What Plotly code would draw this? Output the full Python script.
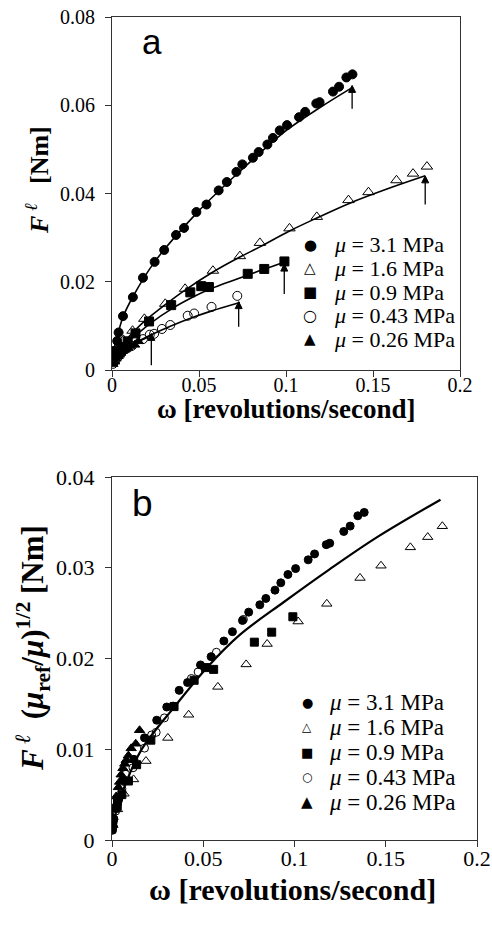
import plotly.graph_objects as go

# ---------------- data (panel a) ----------------
series_names = ["3.1", "1.6", "0.9", "0.43", "0.26"]
mu_values = [3.1, 1.6, 0.9, 0.43, 0.26]
mu_ref = 0.9

x_31 = [0.0003, 0.0007, 0.001, 0.003, 0.0038, 0.0063, 0.012, 0.0178, 0.0245, 0.030, 0.0368, 0.0414,
        0.0485, 0.0543, 0.0613, 0.066, 0.0715, 0.0749, 0.081, 0.0843, 0.0893, 0.0925, 0.0964,
        0.1006, 0.1075, 0.111, 0.1174, 0.1193, 0.127, 0.1305, 0.1347, 0.1382]
y_31 = [0.0020, 0.0028, 0.0043, 0.0066, 0.0085, 0.0122, 0.0165, 0.0209, 0.0245, 0.0272, 0.0306, 0.0322,
        0.0358, 0.0375, 0.0407, 0.0426, 0.0449, 0.0466, 0.0481, 0.0494, 0.0511, 0.0526, 0.0543,
        0.0555, 0.0573, 0.0585, 0.0604, 0.0607, 0.0631, 0.0642, 0.0663, 0.0670]

x_16 = [0.0005, 0.003, 0.0066, 0.0118, 0.0186, 0.0306, 0.042, 0.058, 0.0735, 0.085, 0.102,
        0.1177, 0.1359, 0.1474, 0.1635, 0.173, 0.181]
y_16 = [0.0022, 0.0045, 0.0068, 0.0089, 0.0116, 0.0150, 0.0184, 0.0225, 0.0258, 0.0288, 0.0321,
        0.0347, 0.0385, 0.0403, 0.0430, 0.0445, 0.0461]

x_09 = [0.0005, 0.0015, 0.003, 0.0054, 0.0090, 0.0135, 0.0213, 0.0340, 0.0450, 0.0513, 0.0557,
        0.0780, 0.0875, 0.0991]
y_09 = [0.0022, 0.0035, 0.0042, 0.0050, 0.0065, 0.0083, 0.0110, 0.0147, 0.0176, 0.0190, 0.0188,
        0.0218, 0.0229, 0.0246]

x_043 = [0.0006, 0.002, 0.0035, 0.0054, 0.0075, 0.0115, 0.0178, 0.0217, 0.0242, 0.0287, 0.0335,
         0.0435, 0.0472, 0.0572, 0.0720]
y_043 = [0.0014, 0.0022, 0.0030, 0.0039, 0.0050, 0.0055, 0.0070, 0.0080, 0.0082, 0.0093, 0.0102,
         0.0123, 0.0128, 0.0143, 0.0168]

x_026 = [0.0005, 0.0015, 0.0023, 0.0035, 0.0042, 0.0050, 0.0060, 0.0070, 0.0078, 0.0090, 0.0105,
         0.0130, 0.0151]
y_026 = [0.00134, 0.00188, 0.00258, 0.00312, 0.00344, 0.00387, 0.00425, 0.00451, 0.00473, 0.0050,
         0.00543, 0.0057, 0.0065]

# fitted curves
fit_31_x = [0, 0.001, 0.003, 0.0063, 0.012, 0.0245, 0.0485, 0.0715, 0.1006, 0.12, 0.138]
fit_31_y = [0.0022, 0.0045, 0.0075, 0.0120, 0.0166, 0.0245, 0.0355, 0.0443, 0.0544, 0.0596, 0.0640]
fit_16_x = [0, 0.003, 0.0066, 0.012, 0.0186, 0.0306, 0.042, 0.058, 0.0735, 0.085, 0.102, 0.118,
            0.136, 0.158, 0.18]
fit_16_y = [0.0022, 0.0043, 0.0062, 0.0085, 0.0110, 0.0148, 0.0181, 0.0222, 0.0256, 0.0279, 0.0315,
            0.0345, 0.0377, 0.0410, 0.0440]
fit_09_x = [0, 0.0015, 0.0054, 0.0092, 0.015, 0.0215, 0.0345, 0.0454, 0.056, 0.0786, 0.0878, 0.099]
fit_09_y = [0.0022, 0.0033, 0.0051, 0.0064, 0.0083, 0.0104, 0.0139, 0.0163, 0.0183, 0.0216, 0.0229,
            0.0244]
fit_043_x = [0, 0.002, 0.0054, 0.0082, 0.013, 0.0217, 0.0335, 0.0478, 0.0574, 0.0735]
fit_043_y = [0.0014, 0.0025, 0.0038, 0.0048, 0.0061, 0.0078, 0.0099, 0.0121, 0.0134, 0.0153]
fit_026_x = [0, 0.002, 0.005, 0.010, 0.015, 0.0226]
fit_026_y = [0.0012, 0.0025, 0.0038, 0.0053, 0.0064, 0.0078]

# arrows in panel a (x, tail y, head y)
arrow_x = [0.138, 0.180, 0.099, 0.0728, 0.0226]
arrow_tail = [0.0592, 0.0375, 0.0172, 0.0098, 0.0011]
arrow_head = [0.0645, 0.0440, 0.0240, 0.0155, 0.0083]

# master curve in panel b
fit_b_x = [0, 0.0069, 0.016, 0.0343, 0.0525, 0.070, 0.094, 0.119, 0.1455, 0.18]
fit_b_y = [0.0015, 0.0059, 0.0099, 0.0147, 0.0191, 0.0226, 0.0262, 0.0298, 0.0334, 0.0375]

legend_glyphs = ["●", "△", "■", "○", "▲"]

# ---------------- figure ----------------
W, H = 492, 925
SERIF = "Liberation Serif, Times New Roman, serif"
SANS = "Liberation Sans, Arial, sans-serif"
SYM = "DejaVu Sans, sans-serif"

def px(x):
    return x / W

def py(y):
    return 1 - y / H

xs = [x_31, x_16, x_09, x_043, x_026]
ys = [y_31, y_16, y_09, y_043, y_026]
fits_x = [fit_31_x, fit_16_x, fit_09_x, fit_043_x, fit_026_x]
fits_y = [fit_31_y, fit_16_y, fit_09_y, fit_043_y, fit_026_y]
symbols = ["circle", "triangle-up-open", "square", "circle-open", "triangle-up"]
sizes_a = [9, 10, 9, 9, 9]
sizes_b = [8, 9, 8, 8, 9]

fig = go.Figure()

for fx, fy in zip(fits_x, fits_y):
    fig.add_trace(go.Scatter(x=fx, y=fy, mode="lines", line=dict(color="black", width=1.6, shape="spline"),
                             showlegend=False, hoverinfo="skip", xaxis="x", yaxis="y"))

# arrows marking the end of each fit (line with arrow-head marker at the tip)
for ax_, t, h in zip(arrow_x, arrow_tail, arrow_head):
    fig.add_trace(go.Scatter(x=[ax_, ax_], y=[t, h], mode="lines+markers",
                             line=dict(color="black", width=1.3),
                             marker=dict(symbol=["circle", "arrow-up"], size=[0, 7], color="black",
                                         opacity=1, line=dict(width=1, color="black")),
                             showlegend=False, hoverinfo="skip", xaxis="x", yaxis="y"))

for name, x, y, sym, s in zip(series_names, xs, ys, symbols, sizes_a):
    fig.add_trace(go.Scatter(x=x, y=y, mode="markers", name=f"μ = {name} MPa", showlegend=False,
                             marker=dict(symbol=sym, size=s, color="black", line=dict(color="black", width=1)),
                             xaxis="x", yaxis="y"))

fig.add_trace(go.Scatter(x=fit_b_x, y=fit_b_y, mode="lines", line=dict(color="black", width=2.2, shape="spline"),
                         showlegend=False, hoverinfo="skip", xaxis="x2", yaxis="y2"))

for name, mu, x, y, sym, s in zip(series_names, mu_values, xs, ys, symbols, sizes_b):
    f = (mu_ref / mu) ** 0.5
    fig.add_trace(go.Scatter(x=x, y=[v * f for v in y], mode="markers", name=f"μ = {name} MPa",
                             showlegend=False,
                             marker=dict(symbol=sym, size=s, color="black", line=dict(color="black", width=1)),
                             xaxis="x2", yaxis="y2"))

def axis(fs, standoff, **kw):
    d = dict(showline=True, linecolor="#333", linewidth=1, mirror=True, ticks="outside",
             ticklen=6, tickcolor="#333", showgrid=False, zeroline=False, automargin=False,
             ticklabelstandoff=standoff,
             tickfont=dict(family=SERIF, size=fs, color="black"))
    d.update(kw)
    return d

fig.update_layout(
    width=W, height=H, margin=dict(l=0, r=0, t=0, b=0, autoexpand=False),
    paper_bgcolor="white", plot_bgcolor="white", showlegend=False,
    xaxis=axis(20, -9, domain=[px(112), px(460)], range=[0, 0.2], dtick=0.05, anchor="y"),
    yaxis=axis(20, 6, domain=[py(370), py(17)], range=[0, 0.08], dtick=0.02, anchor="x"),
    xaxis2=axis(22, -7, domain=[px(112), px(477)], range=[0, 0.2], dtick=0.05, anchor="y2"),
    yaxis2=axis(22, 6, domain=[py(840), py(477)], range=[0, 0.04], dtick=0.01, anchor="x2"),
)

annotations = []

# legends (symbol glyph + text)
leg_a_rows = [245, 268.5, 292, 315.5, 339]
leg_b_rows = [702, 727, 752, 777, 802]
glyph_size_a = [15, 15, 15, 16, 15]
glyph_size_b = [13, 12, 13, 12, 15]
for rows, gx, tx, gsz, tsz in [(leg_a_rows, 310, 332, glyph_size_a, 22), (leg_b_rows, 307, 327, glyph_size_b, 23)]:
    for r, g, n, s in zip(rows, legend_glyphs, series_names, gsz):
        annotations.append(dict(x=px(gx), y=py(r), xref="paper", yref="paper", xanchor="center",
                                yanchor="middle", text=g, showarrow=False,
                                font=dict(family=SYM, size=s, color="black")))
        annotations.append(dict(x=px(tx), y=py(r), xref="paper", yref="paper", xanchor="left",
                                yanchor="middle", text=f"<i>μ</i> = {n} MPa", showarrow=False,
                                font=dict(family=SERIF, size=tsz, color="black")))

# panel letters
annotations.append(dict(x=px(140), y=py(63), xref="paper", yref="paper", xanchor="left", yanchor="bottom",
                        text="a", showarrow=False, font=dict(family=SANS, size=35, color="black")))
annotations.append(dict(x=px(130), y=py(526), xref="paper", yref="paper", xanchor="left", yanchor="bottom",
                        text="b", showarrow=False, font=dict(family=SANS, size=37, color="black")))
# axis titles
annotations.append(dict(x=px(37), y=py(180), xref="paper", yref="paper", xanchor="center", yanchor="middle",
                        textangle=-90, showarrow=False,
                        text="<b><i>F</i></b><sup> <i>ℓ</i></sup>   <b>[Nm]</b>",
                        font=dict(family=SERIF, size=26, color="black")))
annotations.append(dict(x=px(33), y=py(648), xref="paper", yref="paper", xanchor="center", yanchor="middle",
                        textangle=-90, showarrow=False,
                        text="<b><i>F</i></b><sup> <i>ℓ</i></sup>  <b>(<i>μ</i><sub>ref</sub>/<i>μ</i>)</b><sup><b>1/2</b></sup> <b>[Nm]</b>",
                        font=dict(family=SERIF, size=31, color="black")))
annotations.append(dict(x=px(286), y=py(409), xref="paper", yref="paper", xanchor="center", yanchor="middle",
                        showarrow=False, text="<b>ω [revolutions/second]</b>",
                        font=dict(family=SERIF, size=27, color="black")))
annotations.append(dict(x=px(292), y=py(889), xref="paper", yref="paper", xanchor="center", yanchor="middle",
                        showarrow=False, text="<b>ω [revolutions/second]</b>",
                        font=dict(family=SERIF, size=30, color="black")))
fig.update_layout(annotations=annotations)

fig.write_html("out.html", config={"displayModeBar": False},
               post_script="document.body.style.margin='0px';document.body.style.overflow='hidden';")
